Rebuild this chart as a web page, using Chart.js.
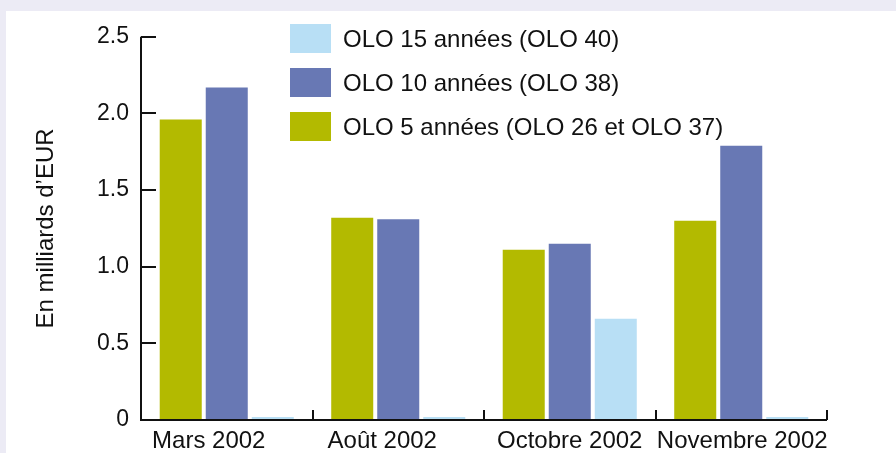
<!DOCTYPE html>
<html lang="fr">
<head>
<meta charset="utf-8">
<script src="https://cdn.jsdelivr.net/npm/chart.js@4"></script>
<style>
  html, body { margin: 0; padding: 0; }
  body { width: 896px; height: 453px; background: #ECEBF5; overflow: hidden; font-family: "Liberation Sans", Arial, sans-serif; }
  #panel { position: absolute; left: 6px; top: 11px; width: 890px; height: 442px; background: #fff; }
  #chart { display: block; }
  #legend { position: absolute; left: 284px; top: 13px; }
  .leg-row { display: flex; align-items: center; height: 29px; margin-bottom: 15px; }
  .leg-box { width: 41px; height: 29px; margin-right: 12px; }
  .leg-txt { font-size: 24px; color: #111; white-space: nowrap; }
</style>
</head>
<body>
<div id="panel">
  <canvas id="chart" width="890" height="442"></canvas>
  <div id="legend"></div>
</div>
<script>
// Données du graphique
const categories = ['Mars 2002', 'Août 2002', 'Octobre 2002', 'Novembre 2002'];
const seriesNames = ['OLO 5 années (OLO 26 et OLO 37)', 'OLO 10 années (OLO 38)', 'OLO 15 années (OLO 40)'];
const olo5 = [1.96, 1.32, 1.11, 1.30];
const olo10 = [2.17, 1.31, 1.15, 1.79];
const olo15 = [0, 0, 0.66, 0];
const yTicks = [0, 0.5, 1.0, 1.5, 2.0, 2.5];
const yTickLabels = ['0', '0.5', '1.0', '1.5', '2.0', '2.5'];
const colors = ['#B3BA00', '#6878B4', '#B8DFF5'];

const FONT = '"Liberation Sans", Arial, sans-serif';
// décalage horizontal des libellés de catégorie (comme dans l'original)
const labelShift = [-18, -16, 0, 1];

// Axes dessinés à la main (graduations vers l'intérieur) + libellés x
const axesPlugin = {
    id: 'axesPlugin',
    afterDraw(chart) {
        const ctx = chart.ctx;
        const area = chart.chartArea;
        const x = chart.scales.x;
        const y = chart.scales.y;
        ctx.save();
        ctx.strokeStyle = '#111';
        ctx.lineWidth = 2;
        ctx.beginPath();
        ctx.moveTo(area.left, area.top);
        ctx.lineTo(area.left, area.bottom);
        ctx.lineTo(area.right, area.bottom);
        ctx.stroke();
        yTicks.forEach(v => {
            if (v === 0) return;
            const py = Math.round(y.getPixelForValue(v));
            ctx.beginPath();
            ctx.moveTo(area.left, py);
            ctx.lineTo(area.left + 15, py);
            ctx.stroke();
        });
        // petites graduations entre les catégories
        const step = (area.right - area.left) / categories.length;
        for (let i = 1; i <= categories.length; i++) {
            const px = Math.round(x.getPixelForValue(i - 1) + step / 2);
            ctx.beginPath();
            ctx.moveTo(px, area.bottom);
            ctx.lineTo(px, area.bottom - 10);
            ctx.stroke();
        }
        // libellés des catégories
        ctx.fillStyle = '#111';
        ctx.font = '24px ' + FONT;
        ctx.textAlign = 'center';
        ctx.textBaseline = 'alphabetic';
        categories.forEach((c, i) => {
            ctx.fillText(c, x.getPixelForValue(i) + labelShift[i], area.bottom + 28);
        });
        ctx.restore();
    }
};

const datasets = [olo5, olo10, olo15].map((data, i) => ({
    label: seriesNames[i],
    data: data,
    backgroundColor: colors[i],
    borderWidth: 0,
    minBarLength: 3,
    categoryPercentage: 0.805,
    barPercentage: 0.913
}));

new Chart(document.getElementById('chart').getContext('2d'), {
    type: 'bar',
    data: { labels: categories, datasets: datasets },
    options: {
        responsive: false,
        animation: false,
        layout: { padding: { left: 0, right: 69, top: 24, bottom: 0 } },
        plugins: {
            legend: { display: false },
            tooltip: { enabled: false }
        },
        scales: {
            x: {
                grid: { display: false, drawTicks: false },
                border: { display: false },
                ticks: { display: false },
                afterFit(scale) { scale.height = 33; }
            },
            y: {
                min: 0,
                max: 2.5,
                afterBuildTicks(scale) {
                    scale.ticks = yTicks.map(v => ({ value: v }));
                },
                grid: { display: false, drawTicks: false },
                border: { display: false },
                ticks: {
                    color: '#111',
                    font: { family: FONT, size: 23 },
                    padding: 12,
                    callback: (value) => yTickLabels[yTicks.indexOf(value)]
                },
                title: {
                    display: true,
                    text: 'En milliards d’EUR',
                    color: '#111',
                    font: { family: FONT, size: 24 },
                    padding: { top: 26, bottom: 0 }
                },
                afterFit(scale) { scale.width = 135; }
            }
        }
    },
    plugins: [axesPlugin]
});

// Légende HTML (ordre inversé)
const legend = document.getElementById('legend');
for (let i = seriesNames.length - 1; i >= 0; i--) {
    const row = document.createElement('div');
    row.className = 'leg-row';
    row.innerHTML = '<div class="leg-box" style="background:' + colors[i] + '"></div>' +
        '<div class="leg-txt">' + seriesNames[i] + '</div>';
    legend.appendChild(row);
}
</script>
</body>
</html>
